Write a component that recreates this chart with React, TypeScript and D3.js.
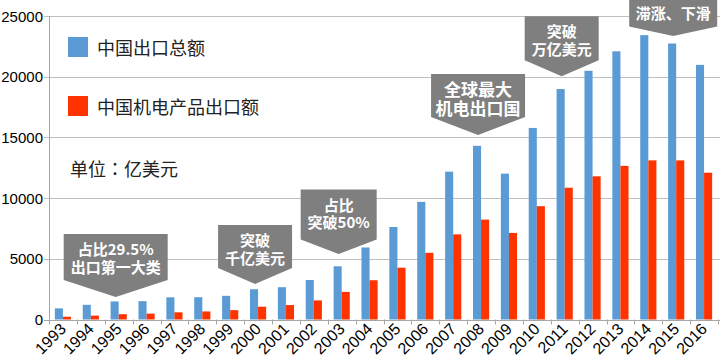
import * as d3 from 'd3';
import React, { FC } from 'react';

const years = [
  '1993', '1994', '1995', '1996', '1997', '1998', '1999', '2000', '2001', '2002', '2003', '2004',
  '2005', '2006', '2007', '2008', '2009', '2010', '2011', '2012', '2013', '2014', '2015', '2016'
];
const totalExports = [
  917, 1210, 1488, 1511, 1828, 1837, 1949, 2492, 2661, 3256, 4382, 5933,
  7620, 9689, 12178, 14307, 12016, 15778, 18984, 20487, 22090, 23423, 22735, 20976
];
const mechExports = [
  227, 320, 438, 483, 593, 665, 770, 1053, 1188, 1571, 2275, 3234,
  4268, 5494, 7012, 8229, 7131, 9334, 10856, 11794, 12655, 13109, 13107, 12092
];
const yTicks = [0, 5000, 10000, 15000, 20000, 25000];
const seriesNames = ['中国出口总额', '中国机电产品出口额'];
const unitParts = ['单位', '：', '亿美元'];

// callouts: anchored on a year, tip at a value
const callouts = [
  { year: '1995', value: 1850, lines: ['占比29.5%', '出口第一大类'] },
  { year: '2000', value: 2920, lines: ['突破', '千亿美元'] },
  { year: '2003', value: 5390, lines: ['占比', '突破50%'] },
  { year: '2008', value: 15200, lines: ['全球最大', '机电出口国'] },
  { year: '2011', value: 20040, lines: ['突破', '万亿美元'] },
  { year: '2015', value: 23350, lines: ['滞涨、下滑'] }
];
// box sizes for the callouts (layout only)
const calloutBoxes = [
  { w: 104, h: 46, arrow: 17, font: 15 },
  { w: 74, h: 43, arrow: 16, font: 15 },
  { w: 76, h: 50, arrow: 14.5, font: 15 },
  { w: 94, h: 43, arrow: 18, font: 17 },
  { w: 74, h: 44, arrow: 16, font: 15 },
  { w: 88, h: 40, arrow: 9.5, font: 15 }
];

const BLUE = '#5B9BD5';
const RED = '#FF3300';
const GRAY = '#7F7F7F';
const CJK = '"Noto Sans CJK SC", "Noto Sans", sans-serif';
const NUM = '"Liberation Sans", Arial, sans-serif';

const App: FC = () => {
  const width = 720;
  const height = 360;
  const left = 49;
  const right = 718;

  const x = d3.scaleBand<string>().domain(years).range([left, right]);
  const bw = x.bandwidth();
  const inner = d3
    .scaleBand<string>()
    .domain(['total', 'mech'])
    .range([bw * 0.21, bw * 0.79]);
  const y = d3.scaleLinear().domain([0, 25000]).range([319.5, 16]);

  const center = (yr: string) => (x(yr) as number) + bw / 2;

  return (
    <svg
      width={width}
      height={height}
      style={{ position: 'absolute', left: 0, top: 0, background: '#fff' }}
    >
      {/* gridlines */}
      {yTicks.map((t) => (
        <line
          key={`g${t}`}
          x1={left - 5}
          x2={width}
          y1={Math.round(y(t)) + 0.5}
          y2={Math.round(y(t)) + 0.5}
          stroke={t === 0 ? '#A6A6A6' : '#BFBFBF'}
          strokeWidth={1}
        />
      ))}
      {/* y axis */}
      <line x1={left + 0.5} x2={left + 0.5} y1={y(25000)} y2={y(0)} stroke="#A6A6A6" />
      {yTicks.map((t) => (
        <text
          key={`yl${t}`}
          x={43}
          y={y(t)}
          textAnchor="end"
          dominantBaseline="central"
          fontFamily={NUM}
          fontSize={15}
          fill="#000"
        >
          {t}
        </text>
      ))}
      {/* x ticks */}
      {[...years.map((yr) => x(yr) as number), right].map((px, i) => (
        <line
          key={`xt${i}`}
          x1={Math.round(px) + 0.5}
          x2={Math.round(px) + 0.5}
          y1={y(0)}
          y2={y(0) + 5}
          stroke="#A6A6A6"
        />
      ))}
      {/* bars */}
      {years.map((yr, i) => (
        <g key={`b${yr}`} transform={`translate(${x(yr)},0)`}>
          <rect
            x={inner('total')}
            width={inner.bandwidth()}
            y={y(totalExports[i])}
            height={y(0) - y(totalExports[i])}
            fill={BLUE}
          />
          <rect
            x={inner('mech')}
            width={inner.bandwidth()}
            y={y(mechExports[i])}
            height={y(0) - y(mechExports[i])}
            fill={RED}
          />
        </g>
      ))}
      {/* x labels */}
      {years.map((yr) => (
        <text
          key={`xl${yr}`}
          transform={`translate(${center(yr) + 4},330) rotate(-45)`}
          textAnchor="end"
          fontFamily={NUM}
          fontSize={16}
          fill="#000"
        >
          {yr}
        </text>
      ))}
      {/* legend */}
      <rect x={68} y={37} width={20} height={20} fill={BLUE} />
      <text x={97} y={47} dominantBaseline="central" fontFamily={CJK} fontSize={18} fill="#222">
        {seriesNames[0]}
      </text>
      <rect x={68} y={96} width={20} height={20} fill={RED} />
      <text x={97} y={106} dominantBaseline="central" fontFamily={CJK} fontSize={18} fill="#222">
        {seriesNames[1]}
      </text>
      <text x={70} y={168} dominantBaseline="central" fontFamily={CJK} fontSize={18} fill="#222">
        {unitParts[0]}
        <tspan fontFamily='"Noto Sans CJK TC", sans-serif'>{unitParts[1]}</tspan>
        {unitParts[2]}
      </text>
      {/* callouts */}
      {callouts.map((c, i) => {
        const b = calloutBoxes[i];
        const cx = center(c.year) - 3;
        const tipY = y(c.value);
        const sideY = tipY - b.arrow;
        const topY = sideY - b.h;
        const path = d3.path();
        path.moveTo(cx - b.w / 2, topY);
        path.lineTo(cx + b.w / 2, topY);
        path.lineTo(cx + b.w / 2, sideY);
        path.lineTo(cx, tipY);
        path.lineTo(cx - b.w / 2, sideY);
        path.closePath();
        const step = b.font + 2.5;
        const startY = c.lines.length === 1 ? sideY - 14 : topY + 14.5;
        return (
          <g key={`c${i}`}>
            <path d={path.toString()} fill={GRAY} />
            {c.lines.map((ln, j) => (
              <text
                key={j}
                x={cx}
                y={startY + j * step}
                textAnchor="middle"
                dominantBaseline="central"
                fontFamily={CJK}
                fontWeight={700}
                fontSize={b.font}
                fill="#fff"
              >
                {ln}
              </text>
            ))}
          </g>
        );
      })}
    </svg>
  );
};

export default App;
